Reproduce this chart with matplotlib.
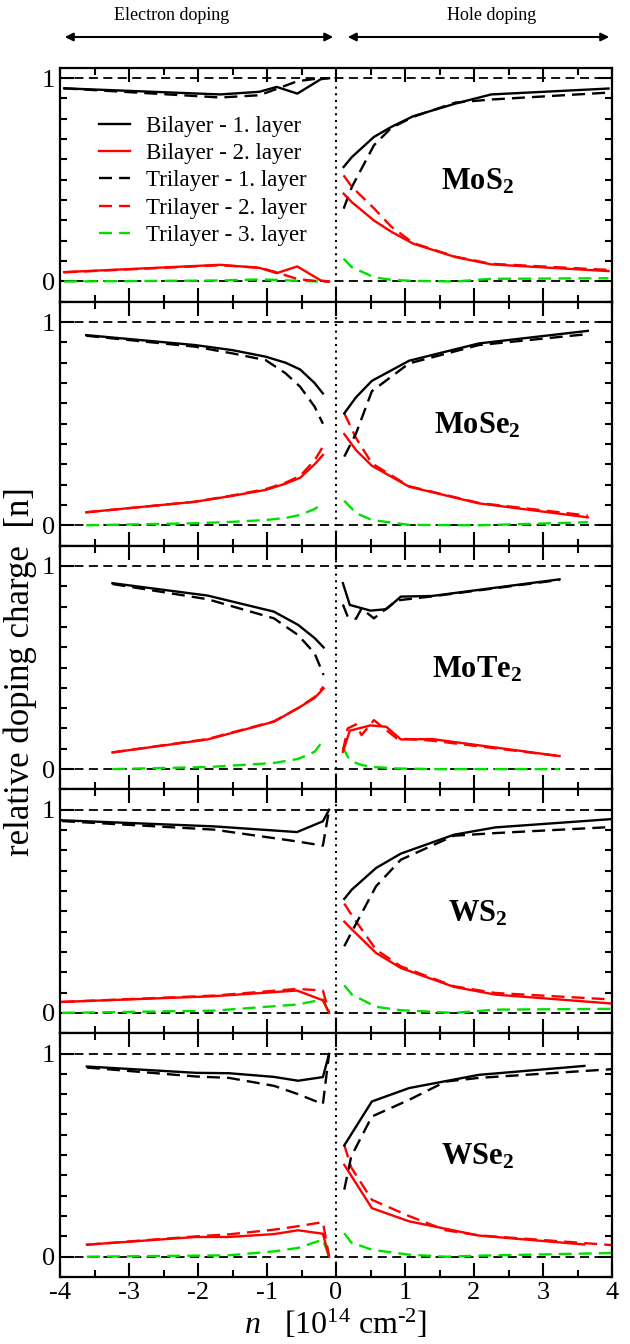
import numpy as np
import matplotlib
matplotlib.use('Agg')
import matplotlib.pyplot as plt
from matplotlib.ticker import MultipleLocator
from matplotlib.lines import Line2D
from matplotlib.patches import FancyArrowPatch

plt.rcParams['font.family'] = 'serif'
plt.rcParams['font.serif'] = ['Liberation Serif', 'DejaVu Serif']
plt.rcParams['mathtext.fontset'] = 'custom'
plt.rcParams['mathtext.rm'] = 'Liberation Serif'
plt.rcParams['mathtext.it'] = 'Liberation Serif:italic'
plt.rcParams['mathtext.bf'] = 'Liberation Serif:bold'
plt.rcParams['axes.unicode_minus'] = False

SERIF = 'Liberation Serif'

# --- MoS2 ---
mos2_n_el = [-3.94, -1.68, -1.11, -0.86, -0.56, -0.22, -0.10]
mos2_bi1_el = [0.950, 0.920, 0.933, 0.957, 0.924, 0.995, 1.000]
mos2_bi2_el = [0.046, 0.082, 0.067, 0.041, 0.074, 0.005, 0.000]
mos2_tri1_el = [0.950, 0.905, 0.916, 0.947, 0.985, 1.000, 1.000]
mos2_tri2_el = [0.045, 0.080, 0.068, 0.045, 0.012, 0.000, 0.000]
mos2_tri3_el = [0.000, 0.005, 0.010, 0.008, 0.003, 0.000, 0.000]
mos2_n_ho = [0.11, 0.23, 0.55, 0.80, 1.12, 1.73, 2.25, 3.95]
mos2_bi1_ho = [0.563, 0.612, 0.711, 0.760, 0.813, 0.875, 0.920, 0.949]
mos2_bi2_ho = [0.432, 0.390, 0.300, 0.245, 0.186, 0.120, 0.084, 0.051]
mos2_tri1_ho = [0.358, 0.465, 0.670, 0.755, 0.810, 0.880, 0.895, 0.929]
mos2_tri2_ho = [0.522, 0.465, 0.360, 0.270, 0.189, 0.122, 0.087, 0.057]
mos2_tri3_ho = [0.112, 0.070, 0.021, 0.008, 0.003, 0.000, 0.013, 0.016]

# --- MoSe2 ---
mose2_n_el = [-3.62, -2.04, -1.50, -1.02, -0.73, -0.52, -0.31, -0.19]
mose2_bi1_el = [0.936, 0.887, 0.862, 0.830, 0.800, 0.767, 0.700, 0.649]
mose2_bi2_el = [0.064, 0.116, 0.145, 0.174, 0.205, 0.234, 0.300, 0.346]
mose2_tri1_el = [0.933, 0.879, 0.846, 0.813, 0.748, 0.682, 0.584, 0.500]
mose2_tri2_el = [0.064, 0.116, 0.147, 0.178, 0.210, 0.243, 0.320, 0.387]
mose2_tri3_el = [0.000, 0.010, 0.017, 0.026, 0.036, 0.051, 0.080, 0.108]
mose2_n_ho = [0.12, 0.29, 0.52, 1.06, 2.07, 3.65]
mose2_bi1_ho = [0.551, 0.630, 0.711, 0.810, 0.895, 0.957]
mose2_bi2_ho = [0.449, 0.370, 0.293, 0.190, 0.108, 0.039]
mose2_tri1_ho = [0.338, 0.452, 0.660, 0.797, 0.887, 0.941]
mose2_tri2_ho = [0.551, 0.430, 0.305, 0.192, 0.110, 0.048]
mose2_tri3_ho = [0.121, 0.060, 0.026, 0.002, 0.000, 0.015]

# --- MoTe2 ---
mote2_n_el = [-3.24, -1.86, -0.90, -0.55, -0.31, -0.18]
mote2_bi1_el = [0.915, 0.854, 0.775, 0.710, 0.645, 0.599]
mote2_bi2_el = [0.082, 0.146, 0.233, 0.300, 0.350, 0.397]
mote2_tri1_el = [0.911, 0.836, 0.742, 0.660, 0.570, 0.463]
mote2_tri2_el = [0.082, 0.148, 0.235, 0.300, 0.355, 0.406]
mote2_tri3_el = [0.000, 0.010, 0.030, 0.050, 0.085, 0.143]
mote2_nbi_ho = [0.10, 0.20, 0.50, 0.73, 0.94, 1.39, 3.24]
mote2_bi1_ho = [0.915, 0.808, 0.780, 0.787, 0.849, 0.852, 0.934]
mote2_bi2_ho = [0.085, 0.189, 0.215, 0.208, 0.146, 0.148, 0.064]
mote2_ntri_ho = [0.10, 0.17, 0.29, 0.37, 0.55, 0.88, 1.39, 3.24]
mote2_tri1_ho = [0.810, 0.750, 0.740, 0.790, 0.742, 0.830, 0.850, 0.931]
mote2_tri2_ho = [0.090, 0.200, 0.220, 0.167, 0.241, 0.151, 0.140, 0.064]
mote2_tri3_ho = [0.110, 0.060, 0.030, 0.020, 0.010, 0.003, 0.000, 0.000]

# --- WS2 ---
ws2_n_el = [-3.97, -1.77, -0.565, -0.19, -0.10]
ws2_bi1_el = [0.948, 0.918, 0.890, 0.943, 1.000]
ws2_bi2_el = [0.054, 0.082, 0.110, 0.062, 0.000]
ws2_tri1_el = [0.944, 0.902, 0.844, 0.823, 1.000]
ws2_tri2_el = [0.054, 0.085, 0.118, 0.110, 0.000]
ws2_tri3_el = [0.000, 0.011, 0.041, 0.066, 0.000]
ws2_n_ho = [0.12, 0.23, 0.58, 0.94, 1.71, 2.31, 4.00]
ws2_bi1_ho = [0.561, 0.607, 0.713, 0.784, 0.877, 0.913, 0.954]
ws2_bi2_ho = [0.449, 0.411, 0.295, 0.221, 0.128, 0.090, 0.046]
ws2_tri1_ho = [0.328, 0.400, 0.623, 0.754, 0.872, 0.885, 0.915]
ws2_tri2_ho = [0.538, 0.480, 0.311, 0.229, 0.131, 0.098, 0.066]
ws2_tri3_ho = [0.136, 0.090, 0.030, 0.013, 0.000, 0.016, 0.020]

# --- WSe2 ---
wse2_n_el = [-3.61, -2.03, -1.55, -0.90, -0.55, -0.19, -0.10]
wse2_bi1_el = [0.936, 0.905, 0.903, 0.885, 0.866, 0.884, 0.998]
wse2_bi2_el = [0.059, 0.097, 0.097, 0.111, 0.130, 0.113, 0.000]
wse2_tri1_el = [0.931, 0.887, 0.880, 0.841, 0.800, 0.751, 1.000]
wse2_tri2_el = [0.059, 0.100, 0.110, 0.133, 0.150, 0.170, 0.000]
wse2_tri3_el = [0.000, 0.005, 0.007, 0.026, 0.043, 0.084, 0.000]
wse2_nbi_ho = [0.12, 0.52, 1.06, 2.07, 3.60]
wse2_bi1_ho = [0.548, 0.764, 0.830, 0.895, 0.939]
wse2_bi2_ho = [0.452, 0.239, 0.174, 0.104, 0.060]
wse2_ntri_ho = [0.12, 0.22, 0.52, 1.06, 1.59, 2.07, 4.00]
wse2_tri1_ho = [0.330, 0.493, 0.690, 0.772, 0.862, 0.880, 0.923]
wse2_tri2_ho = [0.550, 0.440, 0.280, 0.200, 0.130, 0.105, 0.057]
wse2_tri3_ho = [0.116, 0.070, 0.034, 0.010, 0.000, 0.005, 0.018]

materials = [r'$\mathbf{MoS_2}$', r'$\mathbf{MoSe_2}$', r'$\mathbf{MoTe_2}$',
             r'$\mathbf{WS_2}$', r'$\mathbf{WSe_2}$']

RED = '#ff0000'
GREEN = '#00e000'
LW = 1.7
DASH = (0, (5.5, 3.0))


def plot_side(ax, n_bi, bi1, bi2, n_tri, tri1, tri2, tri3):
    ax.plot(n_tri, tri3, color=GREEN, lw=LW, ls=DASH)
    ax.plot(n_tri, tri2, color=RED, lw=LW, ls=DASH)
    ax.plot(n_tri, tri1, color='k', lw=LW, ls=DASH)
    ax.plot(n_bi, bi2, color=RED, lw=LW)
    ax.plot(n_bi, bi1, color='k', lw=LW)


fig = plt.figure(figsize=(6.3, 13.44), dpi=100)
gs = fig.add_gridspec(5, 1, height_ratios=[234, 244, 244, 244, 244], hspace=0,
                      left=60/630, right=612/630, top=1-68/1344, bottom=1-1277/1344)
axes = [fig.add_subplot(gs[i]) for i in range(5)]

plot_side(axes[0], mos2_n_el, mos2_bi1_el, mos2_bi2_el, mos2_n_el, mos2_tri1_el, mos2_tri2_el, mos2_tri3_el)
plot_side(axes[0], mos2_n_ho, mos2_bi1_ho, mos2_bi2_ho, mos2_n_ho, mos2_tri1_ho, mos2_tri2_ho, mos2_tri3_ho)
plot_side(axes[1], mose2_n_el, mose2_bi1_el, mose2_bi2_el, mose2_n_el, mose2_tri1_el, mose2_tri2_el, mose2_tri3_el)
plot_side(axes[1], mose2_n_ho, mose2_bi1_ho, mose2_bi2_ho, mose2_n_ho, mose2_tri1_ho, mose2_tri2_ho, mose2_tri3_ho)
plot_side(axes[2], mote2_n_el, mote2_bi1_el, mote2_bi2_el, mote2_n_el, mote2_tri1_el, mote2_tri2_el, mote2_tri3_el)
plot_side(axes[2], mote2_nbi_ho, mote2_bi1_ho, mote2_bi2_ho, mote2_ntri_ho, mote2_tri1_ho, mote2_tri2_ho, mote2_tri3_ho)
plot_side(axes[3], ws2_n_el, ws2_bi1_el, ws2_bi2_el, ws2_n_el, ws2_tri1_el, ws2_tri2_el, ws2_tri3_el)
plot_side(axes[3], ws2_n_ho, ws2_bi1_ho, ws2_bi2_ho, ws2_n_ho, ws2_tri1_ho, ws2_tri2_ho, ws2_tri3_ho)
plot_side(axes[4], wse2_n_el, wse2_bi1_el, wse2_bi2_el, wse2_n_el, wse2_tri1_el, wse2_tri2_el, wse2_tri3_el)
plot_side(axes[4], wse2_nbi_ho, wse2_bi1_ho, wse2_bi2_ho, wse2_ntri_ho, wse2_tri1_ho, wse2_tri2_ho, wse2_tri3_ho)

for i, ax in enumerate(axes):
    ax.axhline(0, color='k', lw=1.3, ls=(0, (5, 3)), zorder=0)
    ax.axhline(1, color='k', lw=1.3, ls=(0, (5, 3)), zorder=0)
    ax.axvline(0, color='k', lw=1.5, ls=(0, (1, 2.2)), zorder=0)
    ax.set_xlim(-4, 4)
    ax.set_ylim(-0.1, 1.05 if i == 0 else 1.1)
    ax.set_yticks([0, 1])
    ax.yaxis.set_minor_locator(MultipleLocator(0.1))
    ax.xaxis.set_major_locator(MultipleLocator(1))
    ax.xaxis.set_minor_locator(MultipleLocator(0.5))
    ax.tick_params(which='both', direction='in', top=True, right=True, width=1.5, labelsize=19)
    ax.tick_params(which='major', length=10)
    ax.tick_params(which='minor', length=5)
    for sp in ax.spines.values():
        sp.set_linewidth(1.6)
    ax.text(2.05, 0.49, materials[i], fontsize=22, ha='center', va='center')
    if i < 4:
        ax.tick_params(labelbottom=False)
    for lbl in ax.get_xticklabels() + ax.get_yticklabels():
        lbl.set_fontfamily(SERIF)

axes[4].set_xlabel(r'$n$   [10$^{14}$ cm$^{\text{-}2}$]', fontsize=23, labelpad=3)

handles = [Line2D([], [], color='k', lw=LW),
           Line2D([], [], color=RED, lw=LW),
           Line2D([], [], color='k', lw=LW, ls=DASH),
           Line2D([], [], color=RED, lw=LW, ls=DASH),
           Line2D([], [], color=GREEN, lw=LW, ls=DASH)]
labels = ['Bilayer - 1. layer', 'Bilayer - 2. layer', 'Trilayer - 1. layer',
          'Trilayer - 2. layer', 'Trilayer - 3. layer']
axes[0].legend(handles, labels, loc='upper left', bbox_to_anchor=(0.07, 0.795),
               frameon=False, prop={'family': SERIF, 'size': 16.5},
               handlelength=1.35, handletextpad=0.7,
               labelspacing=0.27, borderpad=0, borderaxespad=0)

fig.text(0.032, 0.5, 'relative doping charge  [n]', rotation=90, fontsize=25,
         family=SERIF, ha='center', va='center')

# doping direction arrows above the top panel
arrow_y = 1 - 37/1344
for x0, x1 in [(62/630, 336/630), (345/630, 612/630)]:
    fig.add_artist(FancyArrowPatch((x0, arrow_y), (x1, arrow_y), transform=fig.transFigure,
                                   arrowstyle='<|-|>', mutation_scale=12, lw=1.5, color='k'))
fig.text(172/630, 1 - 15/1344, 'Electron doping', fontsize=13, family=SERIF,
         ha='center', va='center')
fig.text(492/630, 1 - 15/1344, 'Hole doping', fontsize=13, family=SERIF,
         ha='center', va='center')

fig.savefig('out.png', dpi=100)
